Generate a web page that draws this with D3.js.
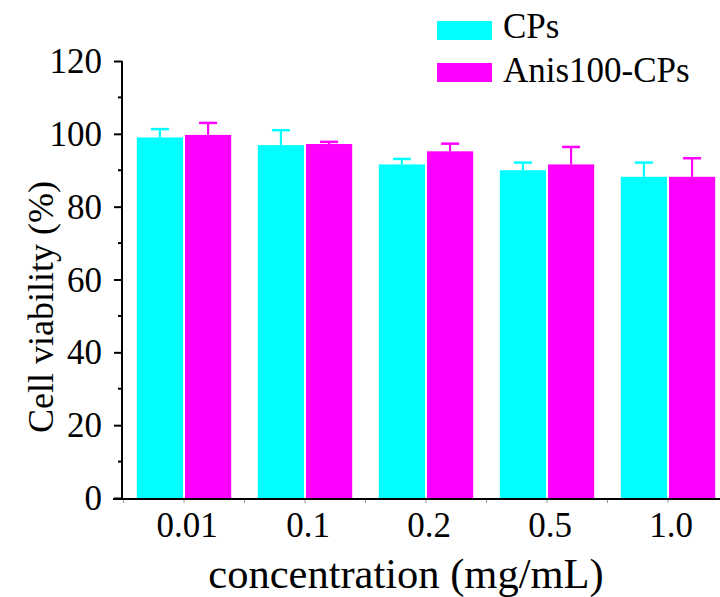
<!DOCTYPE html>
<html><head><meta charset="utf-8">
<script src="https://cdn.jsdelivr.net/npm/d3@7"></script>
<style>html,body{margin:0;padding:0;background:#fff}svg{display:block}svg text{font-family:"Liberation Serif",serif !important;fill:#000}</style>
</head><body>
<svg id="c" width="720" height="597" font-family="Liberation Serif"></svg>
<script>
const categories = ["0.01", "0.1", "0.2", "0.5", "1.0"];
const seriesNames = ["CPs", "Anis100-CPs"];
const cpsValues = [99.0, 96.9, 91.6, 90.0, 88.2];
const cpsErrors = [2.3, 4.1, 1.5, 2.1, 3.9];
const anisValues = [99.7, 97.2, 95.2, 91.6, 88.2];
const anisErrors = [3.3, 0.6, 2.1, 4.8, 5.1];
const yTicks = [0, 20, 40, 60, 80, 100, 120];
const colors = ["#00FFFF", "#FF00FF"];
const FONT = '"Liberation Serif", serif';

const svg = d3.select("#c");
const yTop = 61, yBot = 498, xLeft = 122;
const y = d3.scaleLinear().domain([0, 120]).range([yBot, yTop]);
const x0 = d3.scaleBand().domain(categories).range([123.5, 728.5]).paddingInner(0.22).paddingOuter(0.11);
const x1 = d3.scaleBand().domain(seriesNames).range([0, x0.bandwidth()]).paddingInner(0.04);

const rows = categories.map((c, i) => ({
  cat: c,
  vals: [
    {s: seriesNames[0], v: cpsValues[i], e: cpsErrors[i], col: colors[0]},
    {s: seriesNames[1], v: anisValues[i], e: anisErrors[i], col: colors[1]}
  ]
}));

const g = svg.append("g");
const grp = g.selectAll("g.grp").data(rows).enter().append("g")
  .attr("transform", d => `translate(${x0(d.cat)},0)`);
grp.selectAll("rect").data(d => d.vals).enter().append("rect")
  .attr("x", d => x1(d.s)).attr("width", x1.bandwidth())
  .attr("y", d => y(d.v)).attr("height", d => yBot - y(d.v))
  .attr("fill", d => d.col);
grp.selectAll("line.err").data(d => d.vals).enter().append("line")
  .attr("x1", d => x1(d.s) + x1.bandwidth() / 2).attr("x2", d => x1(d.s) + x1.bandwidth() / 2)
  .attr("y1", d => y(d.v)).attr("y2", d => y(d.v + d.e))
  .attr("stroke", d => d.col).attr("stroke-width", 2.2);
grp.selectAll("line.cap").data(d => d.vals).enter().append("line")
  .attr("x1", d => x1(d.s) + x1.bandwidth() / 2 - 9).attr("x2", d => x1(d.s) + x1.bandwidth() / 2 + 9)
  .attr("y1", d => y(d.v + d.e)).attr("y2", d => y(d.v + d.e))
  .attr("stroke", d => d.col).attr("stroke-width", 2.5);

// Y axis
const yAxis = d3.axisLeft(y).tickValues(yTicks).tickSize(8).tickPadding(12).tickFormat(d3.format("d"));
const ya = svg.append("g").attr("transform", `translate(${xLeft},0)`).call(yAxis);
ya.attr("font-family", FONT).attr("font-size", 35);
ya.select(".domain").attr("stroke-width", 2).attr("d", `M0,${yTop}V${yBot}`);
ya.selectAll(".tick line").attr("stroke-width", 2);
ya.selectAll(".tick text").attr("font-family", FONT).attr("font-size", 35).attr("dy", "0.33em");
const minor = d3.range(10, 120, 20);
svg.append("g").selectAll("line").data(minor).enter().append("line")
  .attr("x1", xLeft - 4).attr("x2", xLeft).attr("y1", d => y(d)).attr("y2", d => y(d))
  .attr("stroke", "#000").attr("stroke-width", 2);

// X axis
svg.append("line").attr("x1", 113).attr("x2", 720).attr("y1", 499).attr("y2", 499)
  .attr("stroke", "#000").attr("stroke-width", 2);
const xTickPos = [];
categories.forEach(c => { xTickPos.push(x0(c) - x0.step() * 0.11); xTickPos.push(x0(c) + x0.bandwidth() / 2); });
svg.append("g").selectAll("line").data(xTickPos).enter().append("line")
  .attr("x1", d => d).attr("x2", d => d).attr("y1", 500).attr("y2", 503)
  .attr("stroke", "#999").attr("stroke-width", 1);
svg.append("g").selectAll("text").data(categories).enter().append("text")
  .attr("x", d => x0(d) + x0.bandwidth() / 2 + 3).attr("y", 537)
  .attr("text-anchor", "middle").attr("font-family", FONT).attr("font-size", 35).text(d => d);

// Axis titles
svg.append("text").attr("x", 406).attr("y", 588).attr("text-anchor", "middle")
  .attr("font-family", FONT).attr("font-size", 42.5).text("concentration (mg/mL)");
svg.append("text").attr("transform", "translate(53,307) rotate(-90)").attr("text-anchor", "middle")
  .attr("font-family", FONT).attr("font-size", 36).text("Cell viability (%)");

// Legend
const leg = svg.append("g");
seriesNames.forEach((s, i) => {
  leg.append("rect").attr("x", 437).attr("y", 21 + i * 42).attr("width", 55).attr("height", 19).attr("fill", colors[i]);
  leg.append("text").attr("x", 503).attr("y", 38 + i * 44).attr("font-family", FONT).attr("font-size", 35).text(s);
});
</script>
</body></html>
